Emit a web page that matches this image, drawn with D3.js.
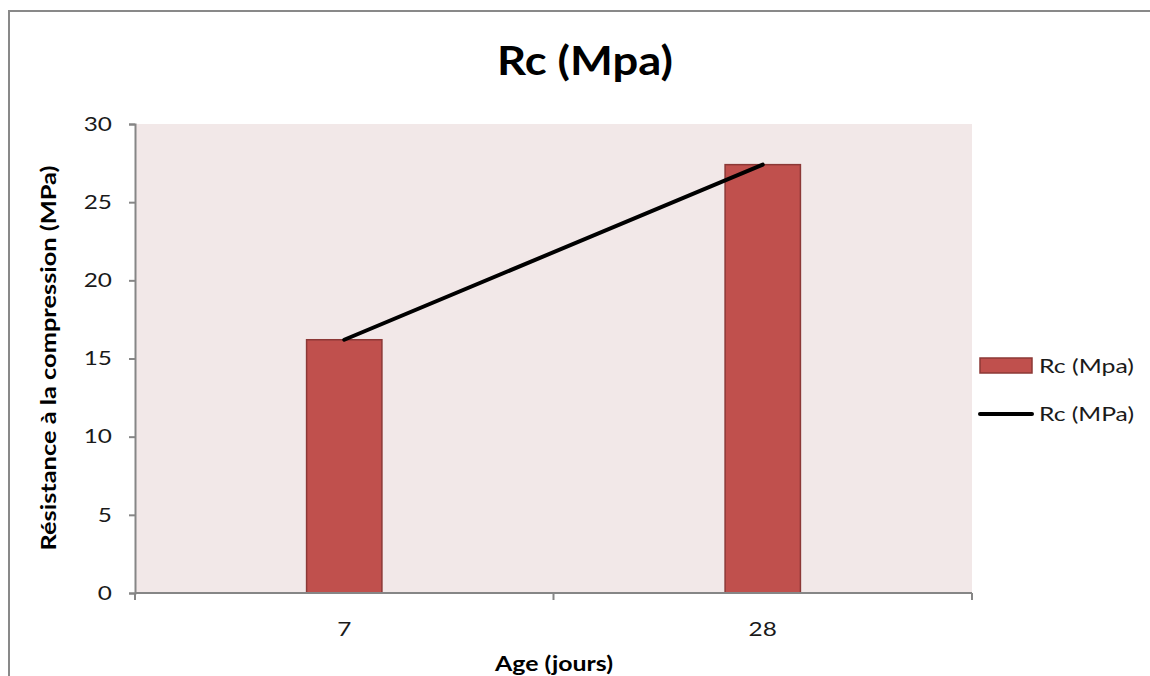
<!DOCTYPE html>
<html>
<head>
<meta charset="utf-8">
<script src="https://cdn.jsdelivr.net/npm/d3@7"></script>
<style>
  body { margin: 0; background: #fff; }
  svg { display: block; font-family: Lato, "Open Sans", sans-serif; }
</style>
</head>
<body>
<svg id="chart" width="1150" height="676"></svg>
<script>
// data
var categories = ["7", "28"];
var barValues = [16.2, 27.4];
var lineValues = [16.2, 27.4];
var yTicks = [0, 5, 10, 15, 20, 25, 30];
var barName = "Rc (Mpa)";
var lineName = "Rc (MPa)";

var svg = d3.select("#chart"),
	margin = {left: 135, right: 178, top: 124, bottom: 83},
	width = +svg.attr("width"),
	height = +svg.attr("height");

var stretch = 1.25; // reference text is wider than Lato

// chart frame
svg.append("rect")
	.attr("x", 9).attr("y", 11)
	.attr("width", 1160).attr("height", 700)
	.attr("fill", "#fff")
	.attr("stroke", "#898989")
	.attr("stroke-width", 2);

var x = d3.scaleBand()
	.domain(categories)
	.range([margin.left, width - margin.right]);

var y = d3.scaleLinear()
	.domain([0, 30])
	.range([height - margin.bottom, margin.top]);

// plot background
svg.append("rect")
	.attr("x", margin.left).attr("y", y(30))
	.attr("width", x.range()[1] - margin.left)
	.attr("height", y(0) - y(30))
	.attr("fill", "#F2E8E8");

// bars
var bw = x.bandwidth() * 0.18;
svg.append("g").selectAll("rect").data(barValues)
	.enter().append("rect")
	.attr("x", function(d, i) { return x(categories[i]) + x.bandwidth() / 2 - bw / 2; })
	.attr("y", function(d) { return y(d); })
	.attr("width", bw)
	.attr("height", function(d) { return y(0) - y(d); })
	.attr("fill", "#C0504D")
	.attr("stroke", "#8C3836")
	.attr("stroke-width", 1.5);

// y axis
var yAxis = svg.append("g")
	.attr("transform", "translate(" + margin.left + ",0)")
	.call(d3.axisLeft(y).tickValues(yTicks).tickSize(6));
yAxis.select(".domain").attr("stroke", "#868686").attr("stroke-width", 2);
yAxis.selectAll(".tick line").attr("stroke", "#868686").attr("stroke-width", 2);
yAxis.selectAll(".tick text")
	.attr("x", 0)
	.attr("transform", "translate(-23,0) scale(" + stretch + ",1)")
	.attr("font-size", 19.5)
	.attr("font-family", "Lato, sans-serif")
	.attr("fill", "#1a1a1a");

// x axis
var xTickPos = [margin.left, margin.left + x.step(), margin.left + 2 * x.step()];
var xAxis = svg.append("g")
	.attr("transform", "translate(0," + y(0) + ")");
xAxis.append("line")
	.attr("x1", margin.left).attr("x2", x.range()[1])
	.attr("stroke", "#868686").attr("stroke-width", 2);
xAxis.selectAll(".xt").data(xTickPos).enter().append("line")
	.attr("x1", function(d) { return d; }).attr("x2", function(d) { return d; })
	.attr("y1", 0).attr("y2", 7)
	.attr("stroke", "#868686").attr("stroke-width", 2);
xAxis.selectAll(".xl").data(categories).enter().append("text")
	.attr("transform", function(d) {
		return "translate(" + (x(d) + x.bandwidth() / 2) + ",43) scale(" + stretch + ",1)";
	})
	.attr("text-anchor", "middle")
	.attr("font-size", 19.5)
	.attr("fill", "#1a1a1a")
	.text(function(d) { return d; });

// line series
var line = d3.line()
	.x(function(d, i) { return x(categories[i]) + x.bandwidth() / 2; })
	.y(function(d) { return y(d); });
svg.append("path")
	.attr("d", line(lineValues))
	.attr("fill", "none")
	.attr("stroke", "#000")
	.attr("stroke-width", 4)
	.attr("stroke-linecap", "round");

// titles
svg.append("text")
	.attr("x", 497).attr("y", 75)
	.attr("textLength", 176).attr("lengthAdjust", "spacingAndGlyphs")
	.attr("font-size", 40).attr("font-weight", "bold")
	.text("Rc (Mpa)");

svg.append("text")
	.attr("transform", "translate(56," + ((y(0) + y(30)) / 2) + ") rotate(-90)")
	.attr("x", -192)
	.attr("textLength", 385).attr("lengthAdjust", "spacingAndGlyphs")
	.attr("font-size", 20).attr("font-weight", "bold")
	.text("Résistance à la compression (MPa)");

svg.append("text")
	.attr("x", 495).attr("y", 671)
	.attr("textLength", 118).attr("lengthAdjust", "spacingAndGlyphs")
	.attr("font-size", 20).attr("font-weight", "bold")
	.text("Age (jours)");

// legend
var lg = svg.append("g");
lg.append("rect")
	.attr("x", 980).attr("y", 358)
	.attr("width", 52).attr("height", 15)
	.attr("fill", "#C0504D").attr("stroke", "#8C3836").attr("stroke-width", 1.5);
lg.append("text")
	.attr("x", 1039).attr("y", 373)
	.attr("textLength", 95).attr("lengthAdjust", "spacingAndGlyphs")
	.attr("font-size", 20).attr("fill", "#1a1a1a")
	.text(barName);
lg.append("line")
	.attr("x1", 980).attr("x2", 1032)
	.attr("y1", 414).attr("y2", 414)
	.attr("stroke", "#000").attr("stroke-width", 4)
	.attr("stroke-linecap", "round");
lg.append("text")
	.attr("x", 1039).attr("y", 421)
	.attr("textLength", 95).attr("lengthAdjust", "spacingAndGlyphs")
	.attr("font-size", 20).attr("fill", "#1a1a1a")
	.text(lineName);
</script>
</body>
</html>
